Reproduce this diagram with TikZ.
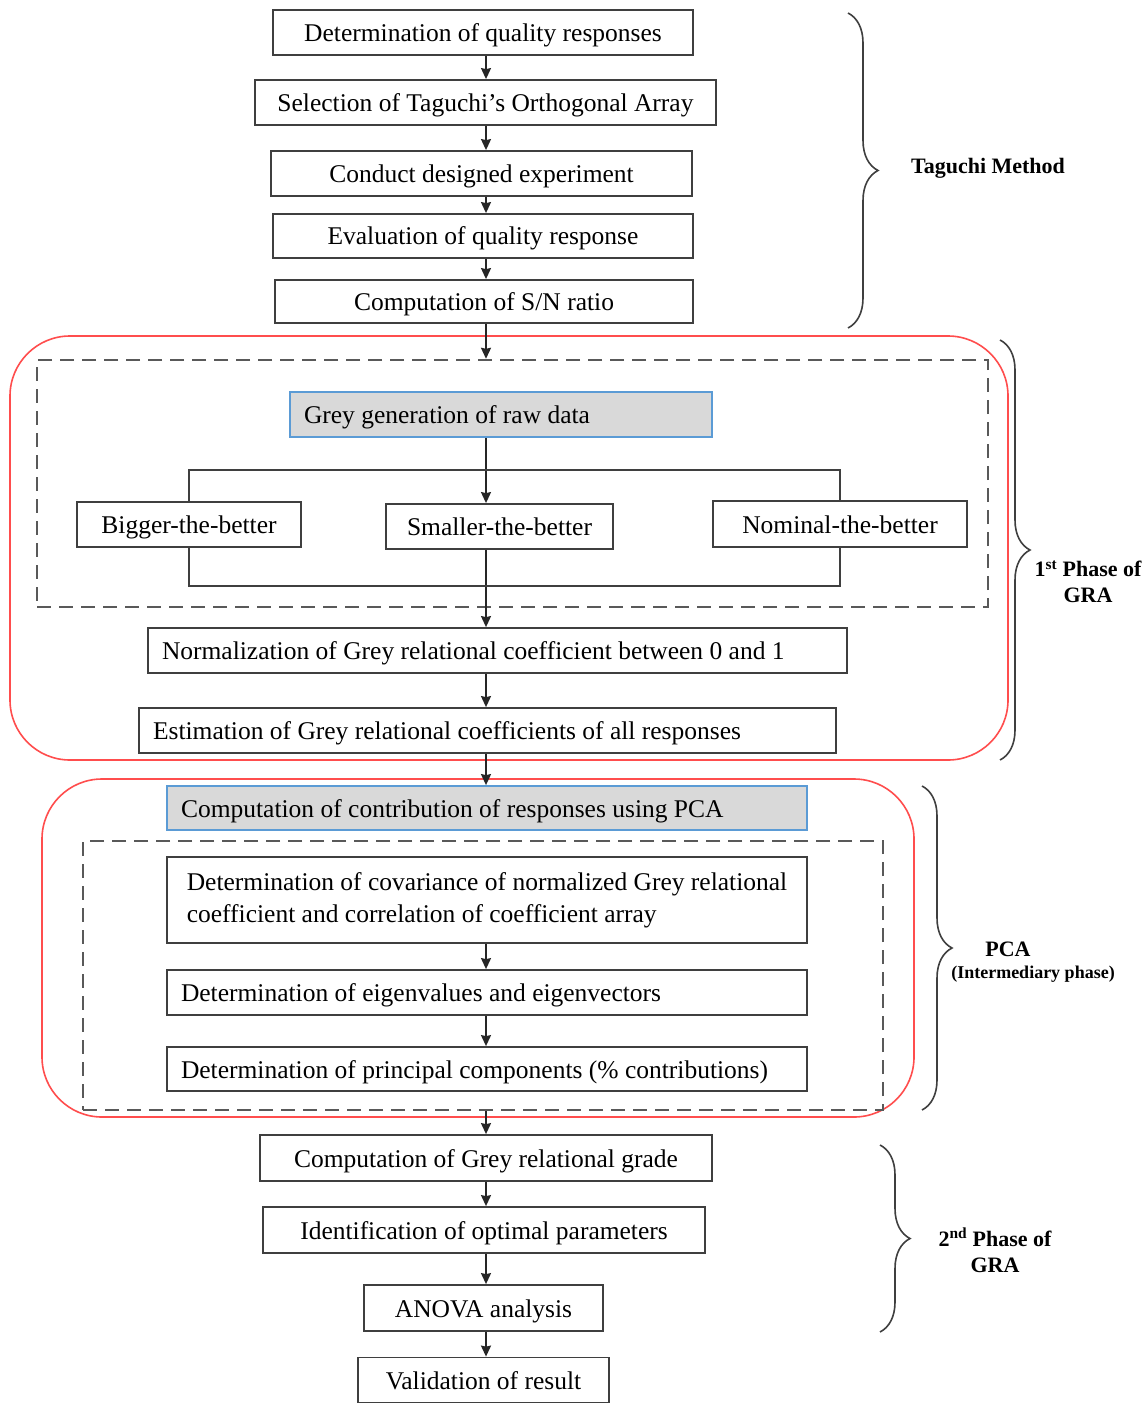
\documentclass[tikz,border=0pt]{standalone}
\usepackage{fontspec}
\setmainfont{Liberation Serif}
\usetikzlibrary{arrows.meta,positioning,decorations.pathreplacing}
\definecolor{boxline}{HTML}{3F3F3F}
\definecolor{greyfill}{HTML}{D9D9D9}
\definecolor{greyedge}{HTML}{5B9BD5}
\definecolor{phasered}{HTML}{FF4D4D}
\definecolor{dashgrey}{HTML}{595959}

\begin{document}
\begin{tikzpicture}[>={Stealth[length=11pt,width=10pt,inset=1pt]},x=1pt,y=1pt,
 font=\fontsize{25.5}{30}\selectfont,
 box/.style={draw=boxline,line width=1.8pt,inner xsep=14pt,inner ysep=0pt,minimum height=45pt,align=center,
   text height=18pt,text depth=0pt},
 lbox/.style={box,align=flush left,text width=#1},
 gbox/.style={lbox=#1,draw=greyedge,fill=greyfill},
 frame/.style={draw=phasered,line width=1.6pt,rounded corners=60pt,inner sep=0pt},
 dframe/.style={draw=dashgrey,line width=2.4pt,dash pattern=on 14pt off 8pt,inner sep=0pt},
 arr/.style={->,draw=black!85,line width=1.8pt},
 conn/.style={draw=boxline,line width=1.8pt},
 brc/.style={decorate,decoration={brace,amplitude=30pt},draw=boxline,line width=1.6pt},
 lab/.style={font=\fontsize{22}{26}\selectfont\bfseries,align=center,inner sep=0pt}]
\useasboundingbox (0,0) rectangle (1146,-1404);
% frames
\node[frame,minimum width=998,minimum height=424] (gra1) at (509,-548) {};
\node[dframe,minimum width=951,minimum height=247] (grey) at (512.5,-483.5) {};
\node[frame,minimum width=872,minimum height=338] (pca) at (478,-948) {};
\node[dframe,minimum width=800,minimum height=269] (pcain) at (483,-975.5) {};
% Taguchi steps
\node[box,minimum width=420] (q1) at (483,-32.5) {Determination of quality responses};
\node[box,minimum width=461] (q2) at (485.5,-102.5) {Selection of Taguchi’s Orthogonal Array};
\node[box,minimum width=421] (q3) at (481.5,-173.5) {Conduct designed experiment};
\node[box,minimum width=420,minimum height=44] (q4) at (483,-236) {Evaluation of quality response};
\node[box,minimum width=418,minimum height=43] (q5) at (484,-301.5) {Computation of S/N ratio};
% 1st phase of GRA
\node[gbox=394] (gen) at (501,-414.5) {Grey generation of raw data};
\node[box,minimum width=224] (bigger) at (189,-524.5) {Bigger-the-better};
\node[box,minimum width=227] (smaller) at (499.5,-526.5) {Smaller-the-better};
\node[box,minimum width=254,minimum height=46] (nominal) at (840,-524) {Nominal-the-better};
\node[lbox=671] (norm) at (497.5,-650.5) {Normalization of Grey relational coefficient between 0 and 1};
\node[lbox=669] (est) at (487.5,-730.5) {Estimation of Grey relational coefficients of all responses};
% PCA
\node[gbox=612,minimum height=44] (contr) at (487,-808) {Computation of contribution of responses using PCA};
\node[box,align=left,minimum width=640,minimum height=86,text height={},text depth={},
  font=\fontsize{25.5}{32}\selectfont] (cov) at (487,-900) {Determination of covariance of normalized Grey relational\\coefficient and correlation of coefficient array};
\node[lbox=612] (eig) at (487,-992.5) {Determination of eigenvalues and eigenvectors};
\node[lbox=612,minimum height=44] (pc) at (487,-1069) {Determination of principal components (\% contributions)};
% 2nd phase of GRA
\node[box,minimum width=452,minimum height=46] (grg) at (486,-1158) {Computation of Grey relational grade};
\node[box,minimum width=442,minimum height=46] (opt) at (484,-1230) {Identification of optimal parameters};
\node[box,minimum width=239,minimum height=46] (anova) at (483.5,-1308) {ANOVA analysis};
\node[box,minimum width=251,minimum height=45] (valid) at (483.5,-1380) {Validation of result};
% connectors
\coordinate (mid) at (486,0);
\coordinate (split) at (486,-470);
\coordinate (join) at (486,-586);
\foreach \a/\b in {q1/q2,q2/q3,q3/q4,q4/q5,gen/smaller,smaller/norm,norm/est,est/contr,cov/eig,eig/pc,grg/opt,opt/anova,anova/valid}
  \draw[arr] (\a.south -| mid) -- (\b.north -| mid);
\draw[arr] (q5.south -| mid) -- (grey.north -| mid);
\draw[arr] (pcain.south -| mid) -- (grg.north -| mid);
\draw[conn] (bigger.north) |- (split) -| (nominal.north);
\draw[conn] (bigger.south) |- (join) -| (nominal.south);
% braces
\draw[brc] (848,-13) -- (848,-328);
\draw[brc] (1000,-340) -- (1000,-760);
\draw[brc] (922,-786) -- (922,-1110);
\draw[brc] (880,-1145) -- (880,-1332);
\node[lab] (taglab) at (988,-168) {Taguchi Method};
\node[lab] (gra1lab) at (1088,-582) {1\textsuperscript{st} Phase of\\GRA};
\node[lab] (pcalab) at (1008,-949) {PCA};
\node[lab,font=\fontsize{18}{21}\selectfont\bfseries] (pcasub) at (1033,-974) {(Intermediary phase)};
\node[lab] (gra2lab) at (995,-1250) {2\textsuperscript{nd} Phase of\\GRA};
\end{tikzpicture}
\end{document}
